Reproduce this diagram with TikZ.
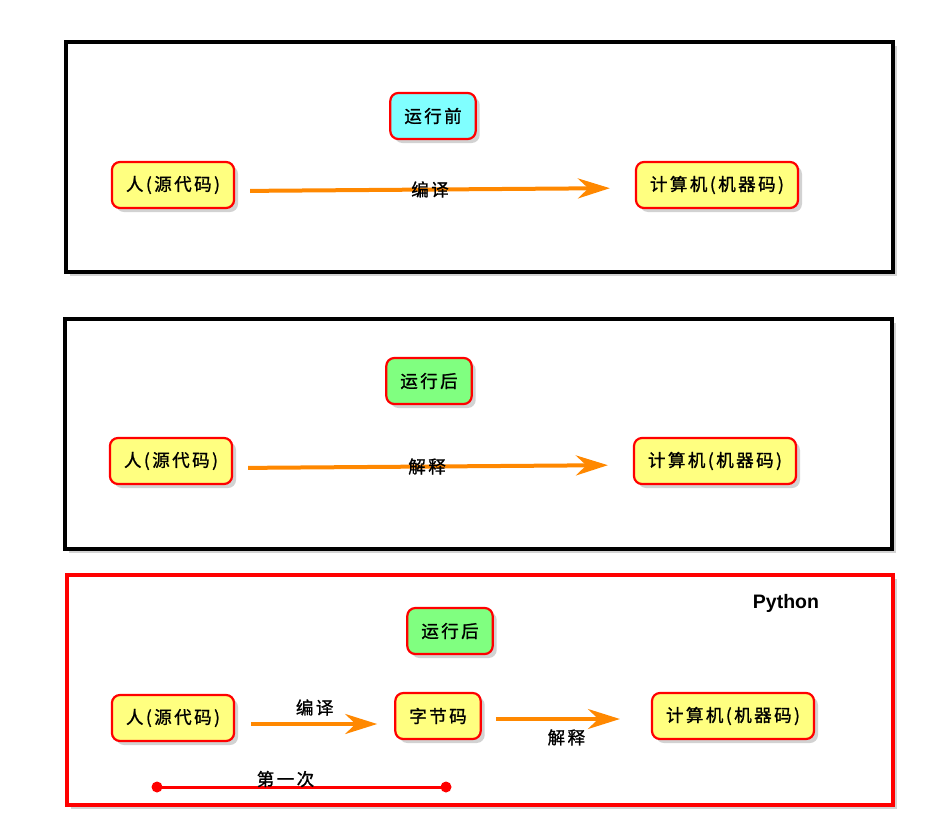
\documentclass[tikz,border=0pt]{standalone}
\usepackage{fontspec}
\usepackage{xcolor}
\newfontfamily\cjk[LetterSpace=14,FakeBold=1.2]{Noto Sans CJK SC}
\newfontfamily\pyfont{Liberation Sans}
\usetikzlibrary{arrows.meta,shadows}
\definecolor{codeyellow}{RGB}{255,255,128}
\definecolor{beforecyan}{RGB}{128,255,255}
\definecolor{aftergreen}{RGB}{128,255,128}
\definecolor{floworange}{RGB}{255,136,0}

\begin{document}
\begin{tikzpicture}[x=1pt,y=-1pt,
    panel/.style={line width=3.5pt, fill=white, drop shadow={shadow xshift=4pt, shadow yshift=-4pt, opacity=0.35}},
    codebox/.style={draw=red, line width=2.2pt, rounded corners=8pt, fill=codeyellow,
        minimum height=46pt, inner xsep=14pt, font=\cjk\fontsize{17.5}{17.5}\selectfont,
        drop shadow={shadow xshift=4pt, shadow yshift=-4pt, opacity=0.35}},
    flow/.style={draw=floworange, line width=4pt, -{Stealth[length=32pt,width=20pt]}},
    flowtext/.style={text=black, font=\cjk\fontsize{17.5}{17.5}\selectfont}]
    \useasboundingbox (0,0) rectangle (926,830);
    % frames
    \draw[panel, draw=black] (66,42) rectangle (893,272);
    \draw[panel, draw=black] (65,319) rectangle (892,549);
    \draw[panel, draw=red] (67,575) rectangle (893,805);

    % before running
    \node[codebox, fill=beforecyan] (pre) at (433,116) {运行前};
    \node[codebox] (src1) at (173,185) {人(源代码)};
    \node[codebox] (pc1) at (717,185) {计算机(机器码)};
    \draw[flow, shorten <=15pt, shorten >=25pt] ([yshift=-6pt]src1.east) -- ([yshift=-3pt]pc1.west)
        node[flowtext, midway, xshift=-5pt] {编译};

    % after running
    \node[codebox, fill=aftergreen] (post1) at (429,381) {运行后};
    \node[codebox] (src2) at (171,461) {人(源代码)};
    \node[codebox] (pc2) at (715,461) {计算机(机器码)};
    \draw[flow, shorten <=15pt, shorten >=25pt] ([yshift=-7pt]src2.east) -- ([yshift=-4pt]pc2.west)
        node[flowtext, midway, xshift=-6pt] {解释};

    % python
    \node[font=\pyfont\bfseries\fontsize{19.5}{19.5}\selectfont] (py) at (786,603) {Python};
    \node[codebox, fill=aftergreen] (post2) at (450,631) {运行后};
    \node[codebox] (src3) at (173,718) {人(源代码)};
    \node[codebox] (byte) at (438,716) {字节码};
    \node[codebox] (pc3) at (733,716) {计算机(机器码)};
    \draw[flow, shorten <=16pt, shorten >=17pt] ([yshift=-6pt]src3.east) -- ([yshift=-8pt]byte.west)
        node[flowtext, midway, above=3pt] {编译};
    \draw[flow, shorten <=14pt, shorten >=31pt] ([yshift=-3pt]byte.east) -- ([yshift=-3pt]pc3.west)
        node[flowtext, midway, below=5pt] {解释};

    \coordinate (first1) at (157,787);
    \coordinate (first2) at (446,787);
    \draw[red, line width=3pt] (first1) -- (first2)
        node[flowtext, midway, above=-5pt, xshift=-16pt] {第一次};
    \fill[red] (first1) circle (5.5pt) (first2) circle (5.5pt);
\end{tikzpicture}
\end{document}
